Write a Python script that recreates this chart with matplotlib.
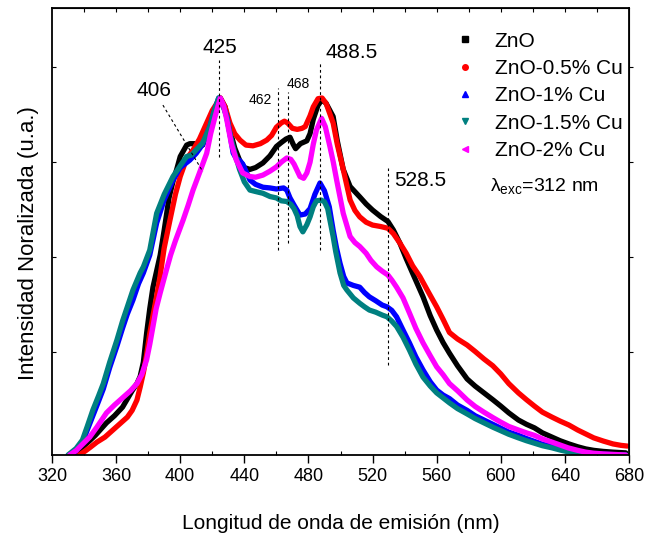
import numpy as np
import matplotlib
matplotlib.use("Agg")
from matplotlib import pyplot as plt
from matplotlib.lines import Line2D

plt.rcParams['font.family'] = ['Liberation Sans', 'DejaVu Sans']
plt.rcParams['mathtext.fontset'] = 'custom'
plt.rcParams['mathtext.rm'] = 'Liberation Sans'

# ZnO
wl_zno = [331, 335, 339, 343, 347, 351, 354, 359, 364, 370, 373, 375, 377, 379, 381, 383, 385.5, 387.5,
          390, 393, 395.7, 397.8, 400, 404, 406, 410, 414, 418.6, 422, 425, 428, 431, 434, 437, 440,
          443.5, 447, 451.6, 456, 460, 463, 466, 468.5, 470.5, 472, 475, 479, 481, 483, 486, 488.5,
          491, 495.4, 498, 501.7, 506, 512, 516, 520, 525, 529.6, 533, 537, 541, 545, 551.5, 556, 560,
          564, 568, 573, 579, 584, 589.5, 595, 600, 605, 611, 616, 621, 626, 632, 637, 642.5, 648,
          653, 658, 664, 670, 678]
i_zno = [0, 0.008, 0.022, 0.038, 0.055, 0.075, 0.09, 0.11, 0.134, 0.18, 0.2, 0.22, 0.26, 0.34, 0.41,
         0.47, 0.52, 0.56, 0.63, 0.72, 0.77, 0.8, 0.836, 0.868, 0.872, 0.872, 0.868, 0.93, 0.975, 1.0,
         0.975, 0.91, 0.86, 0.826, 0.805, 0.8, 0.805, 0.818, 0.838, 0.864, 0.875, 0.885, 0.89, 0.87,
         0.858, 0.872, 0.88, 0.9, 0.94, 0.98, 0.995, 0.985, 0.948, 0.88, 0.8, 0.752, 0.723, 0.703,
         0.686, 0.668, 0.654, 0.63, 0.594, 0.55, 0.509, 0.443, 0.39, 0.35, 0.315, 0.285, 0.25, 0.213,
         0.193, 0.174, 0.155, 0.137, 0.118, 0.098, 0.086, 0.076, 0.062, 0.05, 0.04, 0.031, 0.023,
         0.017, 0.013, 0.01, 0.008, 0.006]

# ZnO-0.5% Cu
wl_cu05 = [337, 341, 344, 348, 353, 358, 363, 367, 370, 373, 375, 377, 379, 381, 383, 385.5, 387.4, 390,
           393.6, 397, 400, 404, 408, 412, 416.5, 420, 425, 428, 431, 434, 437.3, 441, 445.4, 450, 454,
           457, 460, 463, 465, 467, 470, 473, 476, 478, 481, 483, 486, 488.5, 491, 495.4, 498, 501.7,
           506, 509, 512, 516, 520, 525, 529.6, 533, 537, 541, 545, 549.5, 555, 560, 564, 568, 573, 579,
           584, 589.5, 595, 600, 605, 611, 616, 621, 626, 632, 637, 642.5, 648, 653, 658, 664, 670,
           675, 679]
i_cu05 = [0, 0.012, 0.022, 0.036, 0.05, 0.07, 0.09, 0.106, 0.125, 0.154, 0.19, 0.23, 0.28, 0.34, 0.39,
          0.45, 0.5, 0.58, 0.658, 0.73, 0.78, 0.83, 0.854, 0.885, 0.93, 0.965, 1.0, 0.975, 0.93, 0.9,
          0.882, 0.868, 0.866, 0.872, 0.882, 0.895, 0.918, 0.93, 0.935, 0.93, 0.915, 0.912, 0.915,
          0.92, 0.95, 0.975, 0.998, 1.0, 0.985, 0.93, 0.87, 0.8, 0.714, 0.685, 0.667, 0.652, 0.644,
          0.64, 0.635, 0.62, 0.594, 0.565, 0.53, 0.5, 0.455, 0.415, 0.38, 0.343, 0.325, 0.308, 0.29,
          0.269, 0.25, 0.227, 0.2, 0.174, 0.155, 0.137, 0.12, 0.106, 0.095, 0.084, 0.07, 0.059, 0.048,
          0.039, 0.031, 0.027, 0.025]

# ZnO-1% Cu
wl_cu1 = [331, 335, 339, 342, 345.5, 349, 352, 356, 360.5, 364, 367, 370.5, 374, 377, 381, 385.3, 390,
          395.5, 400, 406, 410, 414, 418.5, 421, 424, 427, 429, 431, 433, 435, 437, 439, 441, 443.5,
          447, 451.6, 456, 460, 464.5, 466.5, 468.5, 471, 474.7, 478, 481, 484, 487.2, 490, 493, 495.4,
          497.5, 499.7, 502, 504, 508, 512, 515, 518, 522, 526, 529, 532, 535, 539, 543, 547, 551.5,
          556, 560, 564, 568, 573, 579, 584, 589.5, 595, 600, 605, 611, 616, 621, 626, 632, 637, 642,
          648, 653, 664, 678]
i_cu1 = [0, 0.012, 0.035, 0.07, 0.11, 0.15, 0.185, 0.245, 0.305, 0.355, 0.395, 0.434, 0.48, 0.51,
         0.56, 0.65, 0.715, 0.77, 0.805, 0.826, 0.845, 0.87, 0.92, 0.96, 1.0, 0.975, 0.95, 0.9, 0.846,
         0.83, 0.825, 0.815, 0.795, 0.77, 0.758, 0.75, 0.748, 0.745, 0.748, 0.742, 0.72, 0.7, 0.672,
         0.675, 0.69, 0.73, 0.762, 0.74, 0.695, 0.63, 0.58, 0.537, 0.5, 0.482, 0.475, 0.47, 0.455,
         0.443, 0.432, 0.42, 0.415, 0.405, 0.387, 0.35, 0.314, 0.275, 0.238, 0.205, 0.182, 0.168,
         0.158, 0.14, 0.125, 0.11, 0.098, 0.086, 0.075, 0.064, 0.055, 0.046, 0.038, 0.03, 0.024,
         0.017, 0.012, 0.007, 0.005, 0.002, 0]

# ZnO-1.5% Cu
wl_cu15 = [330, 335, 339, 342, 345.5, 349, 352, 356, 360.5, 364, 367, 370.5, 375, 377, 381, 385.3, 390,
           395.5, 400, 404, 407, 410, 414, 418.5, 421, 424, 427, 429, 431, 434, 437, 440, 443.5, 447,
           451.6, 456, 460, 463, 466.5, 469, 471, 473, 474.7, 476.5, 479, 481, 483, 485, 488, 490,
           492, 495.4, 497, 499.7, 502, 504, 508, 512, 515, 518, 522, 526, 529, 532, 535, 539, 543,
           547, 551.5, 556, 560, 564, 568, 573, 579, 584, 589.5, 595, 600, 605, 611, 616, 621, 626,
           632, 637, 642, 648, 653, 664, 678]
i_cu15 = [0, 0.018, 0.042, 0.08, 0.126, 0.165, 0.2, 0.26, 0.322, 0.375, 0.415, 0.462, 0.51, 0.527,
          0.574, 0.677, 0.73, 0.78, 0.81, 0.836, 0.84, 0.855, 0.874, 0.92, 0.96, 1.0, 0.975, 0.947,
          0.9, 0.846, 0.8, 0.765, 0.742, 0.738, 0.733, 0.724, 0.72, 0.712, 0.71, 0.702, 0.69, 0.67,
          0.64, 0.625, 0.645, 0.667, 0.695, 0.712, 0.714, 0.709, 0.69, 0.612, 0.57, 0.51, 0.475, 0.462,
          0.44, 0.425, 0.415, 0.406, 0.4, 0.392, 0.387, 0.375, 0.36, 0.33, 0.294, 0.255, 0.218, 0.193,
          0.174, 0.16, 0.146, 0.13, 0.115, 0.102, 0.09, 0.078, 0.068, 0.058, 0.048, 0.04, 0.033,
          0.026, 0.02, 0.014, 0.009, 0.005, 0.003, 0.001, 0]

# ZnO-2% Cu
wl_cu2 = [331, 335, 339, 343.5, 348, 354, 359, 364, 369, 373, 376, 379, 381, 383, 385, 387.5, 391.5,
          394, 397, 401.8, 405, 408, 412, 416.5, 419, 421.7, 425, 427, 429, 432, 435, 439, 443.5, 447,
          451.6, 456, 460, 463, 466.5, 469, 471, 474.7, 477, 479, 481, 483, 485, 488.2, 490.5, 493.4,
          495.5, 497.6, 501.7, 506, 509, 512, 516, 519, 522.6, 526, 529.6, 532, 535, 539, 543, 547,
          551.5, 556, 560, 564, 568, 573, 579, 584, 589.5, 595, 600, 605, 611, 616, 621, 626, 632,
          637, 642, 648, 653, 658, 664, 678]
i_cu2 = [0, 0.012, 0.03, 0.05, 0.078, 0.118, 0.14, 0.16, 0.18, 0.2, 0.225, 0.266, 0.31, 0.36, 0.41,
         0.454, 0.52, 0.56, 0.6, 0.658, 0.7, 0.742, 0.79, 0.845, 0.9, 0.947, 1.0, 0.98, 0.94, 0.87,
         0.826, 0.79, 0.78, 0.778, 0.784, 0.795, 0.807, 0.82, 0.832, 0.828, 0.815, 0.78, 0.775, 0.79,
         0.82, 0.87, 0.91, 0.943, 0.92, 0.864, 0.82, 0.77, 0.677, 0.612, 0.595, 0.584, 0.565, 0.545,
         0.527, 0.515, 0.504, 0.49, 0.47, 0.44, 0.398, 0.355, 0.314, 0.278, 0.247, 0.225, 0.2, 0.18,
         0.154, 0.136, 0.12, 0.105, 0.092, 0.08, 0.07, 0.062, 0.055, 0.045, 0.036, 0.028, 0.02,
         0.013, 0.008, 0.005, 0.003, 0]

labels = ['ZnO', 'ZnO-0.5% Cu', 'ZnO-1% Cu', 'ZnO-1.5% Cu', 'ZnO-2% Cu']
colors = ['black', 'red', 'blue', '#008080', 'magenta']
markers = ['s', 'o', '^', 'v', '<']
series = [(wl_zno, i_zno), (wl_cu05, i_cu05), (wl_cu1, i_cu1), (wl_cu15, i_cu15), (wl_cu2, i_cu2)]

fig = plt.figure(figsize=(6.54, 5.36), dpi=100)
ax = fig.add_axes([52/654, 81/536, 577/654, 447/536])

for (wl, inten), c in zip(series, colors):
    ax.plot(wl, inten, color=c, lw=3.8, solid_joinstyle='round', solid_capstyle='round')

ax.set_xlim(320, 680)
ax.set_ylim(0, 1.252)
ax.set_xticks(np.arange(320, 681, 40))
ax.set_xticks(np.arange(340, 680, 40), minor=True)
ax.set_yticks([0.289, 0.555, 0.821, 1.087])
ax.set_yticklabels([])
ax.tick_params(axis='x', which='major', direction='out', length=6, width=1, labelsize=13)
ax.tick_params(axis='x', which='minor', direction='in', length=3, width=0.8)
ax.tick_params(axis='y', which='major', direction='in', length=3, width=0.8)
for s in ax.spines.values():
    s.set_linewidth(1.3)

# top and right ticks
top = ax.secondary_xaxis('top')
top.set_xticks(np.arange(340, 680, 20))
top.tick_params(direction='in', length=3, width=0.8, labeltop=False)
right = ax.secondary_yaxis('right')
right.set_yticks([0.289, 0.555, 0.821, 1.087])
right.tick_params(direction='out', length=3, width=0.8, labelright=False)

ax.set_xlabel('Longitud de onda de emisión (nm)', fontsize=15, labelpad=21)
ax.set_ylabel('Intensidad Noralizada (u.a.)', fontsize=16)
ax.yaxis.set_label_coords(-0.022, 0.474)

# peak markers
dash = dict(color='black', ls=(0, (2.5, 2.5)), lw=0.8)
ax.plot([424.5, 424.5], [0.835, 1.106], **dash)
ax.text(424.5, 1.14, '425', fontsize=15, ha='center', va='center')
ax.plot([389.2, 414.2], [0.98, 0.793], **dash)
ax.text(383.6, 1.02, '406', fontsize=15, ha='center', va='center')
ax.plot([461, 461], [0.574, 1.028], **dash)
ax.text(449.8, 0.994, '462', fontsize=10, ha='center', va='center')
ax.plot([467, 467], [0.594, 1.017], **dash)
ax.text(473.5, 1.039, '468', fontsize=10, ha='center', va='center')
ax.plot([487.2, 487.2], [0.574, 1.098], **dash)
ax.text(507, 1.126, '488.5', fontsize=15, ha='center', va='center')
ax.plot([529.6, 529.6], [0.252, 0.804], **dash)
ax.text(549.6, 0.77, '528.5', fontsize=15, ha='center', va='center')

ax.text(593, 0.75, r'λ$_{\mathrm{exc}}$=312 nm', fontsize=14, ha='left', va='center')

handles = [Line2D([], [], color=c, marker=m, ls='none', markersize=4) for c, m in zip(colors, markers)]
ax.legend(handles, labels, loc='upper left', bbox_to_anchor=(0.672, 0.98), frameon=False,
          fontsize=15, labelspacing=0.4, handlelength=1.0, handletextpad=0.93, borderpad=0.2)

fig.savefig('out.png', dpi=100)
